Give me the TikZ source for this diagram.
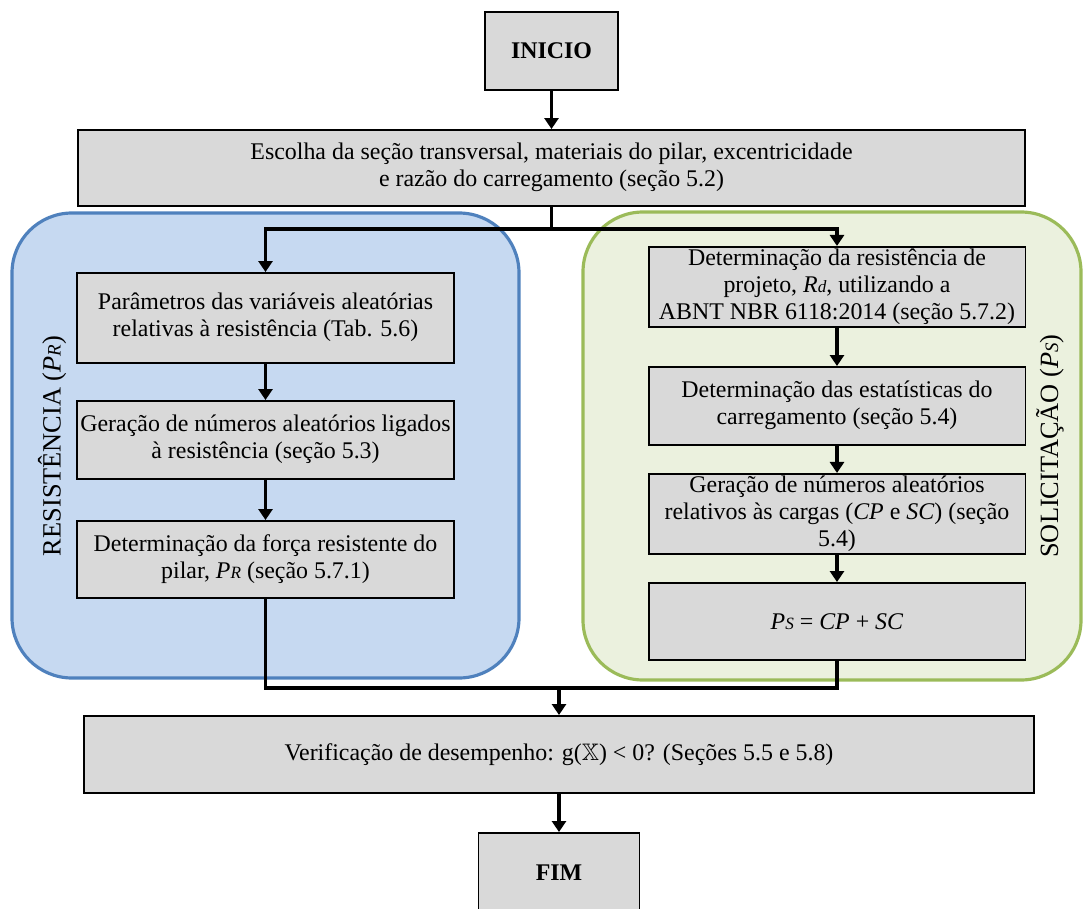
\documentclass[tikz,border=0pt]{standalone}
\usepackage{amssymb}
\usepackage{fontspec}
\setmainfont{Liberation Serif}
\usetikzlibrary{arrows.meta}

\definecolor{cinza}{HTML}{D9D9D9}
\definecolor{azulborda}{HTML}{4F81BD}
\definecolor{azulfundo}{HTML}{C6D9F1}
\definecolor{verdeborda}{HTML}{9BBB59}
\definecolor{verdefundo}{HTML}{EBF1DE}

\setlength{\tabcolsep}{1pt}
\newcommand{\indice}[2]{\textit{#1\scalebox{0.72}{#2}}}

\begin{document}
\begin{tikzpicture}[x=0.02cm, y=-0.02cm,
    >={Triangle[width=0.28cm,length=0.22cm]},
    caixa/.style={draw, line width=1.1pt, fill=cinza, inner sep=0pt, font=\fontsize{13.6}{15.2}\selectfont},
    seta/.style={line width=1.9pt},
    grupo/.style={line width=1.8pt, rounded corners=1.2cm},
    rotulo/.style={rotate=90, font=\fontsize{15}{18}\selectfont}]
    \useasboundingbox (0,0) rectangle (1083,909);

    \draw[grupo, draw=azulborda, fill=azulfundo] (12,213) rectangle (519,678);
    \draw[grupo, draw=verdeborda, fill=verdefundo] (583,212) rectangle (1081,680);

    \node[caixa, minimum width=2.66cm, minimum height=1.56cm] (inicio) at (551.5,51) {\textbf{INICIO}};
    \node[caixa, minimum width=18.94cm, minimum height=1.52cm] (escolha) at (551.5,168) {\begin{tabular}{c}Escolha da seção transversal, materiais do pilar, excentricidade \\ e razão do carregamento (seção 5.2)\end{tabular}};

    \node[caixa, minimum width=7.56cm, minimum height=1.8cm] (param) at (265.5,318) {\begin{tabular}{c}Parâmetros das variáveis aleatórias \\ relativas à resistência (Tab. 5.6)\end{tabular}};
    \node[caixa, minimum width=7.56cm, minimum height=1.56cm] (geracaor) at (265.5,440) {\begin{tabular}{c}Geração de números aleatórios ligados \\ à resistência (seção 5.3)\end{tabular}};
    \node[caixa, minimum width=7.56cm, minimum height=1.54cm] (forca) at (265.5,559.5) {\begin{tabular}{c}Determinação da força resistente do \\ pilar, \indice{P}{R} (seção 5.7.1)\end{tabular}};
    \node[rotulo] (rotres) at (52,446) {RESISTÊNCIA (\indice{P}{R})};

    \node[caixa, minimum width=7.54cm, minimum height=1.56cm] (rd) at (837,287) {\begin{tabular}{c}Determinação da resistência de \\ projeto, \indice{R}{d}, utilizando a \\ ABNT NBR 6118:2014 (seção 5.7.2)\end{tabular}};
    \node[caixa, minimum width=7.54cm, minimum height=1.56cm] (estat) at (837,406) {\begin{tabular}{c}Determinação das estatísticas do \\ carregamento (seção 5.4)\end{tabular}};
    \node[caixa, minimum width=7.54cm, minimum height=1.56cm] (geracaos) at (837,514) {\begin{tabular}{c}Geração de números aleatórios \\ relativos às cargas (\textit{CP} e \textit{SC}) (seção \\ 5.4)\end{tabular}};
    \node[caixa, minimum width=7.54cm, minimum height=1.54cm] (ps) at (837,621.5) {\indice{P}{S} = \textit{CP} + \textit{SC}};
    \node[rotulo] (rotsol) at (1050,446) {SOLICITAÇÃO (\indice{P}{S})};

    \node[caixa, minimum width=19cm, minimum height=1.54cm] (verif) at (559,754.5) {Verificação de desempenho: g($\mathbb{X}$) < 0? (Seções 5.5 e 5.8)};
    \node[caixa, minimum width=3.22cm, minimum height=1.6cm] (fim) at (559,873) {\textbf{FIM}};

    \coordinate (divide) at (551.5,229);
    \coordinate (junta) at (559,688);

    \draw[seta,->] (inicio) -- (escolha);
    \draw[seta] (escolha.south) -- (divide);
    \draw[seta,->] (divide) -| (param.north);
    \draw[seta,->] (divide) -| (rd.north);

    \draw[seta,->] (param) -- (geracaor);
    \draw[seta,->] (geracaor) -- (forca);

    \draw[seta,->] (rd) -- (estat);
    \draw[seta,->] (estat) -- (geracaos);
    \draw[seta,->] (geracaos) -- (ps);

    \draw[seta] (forca.south) |- (junta);
    \draw[seta] (ps.south) |- (junta);
    \draw[seta,->] (junta) -- (verif);
    \draw[seta,->] (verif) -- (fim);

\end{tikzpicture}
\end{document}
